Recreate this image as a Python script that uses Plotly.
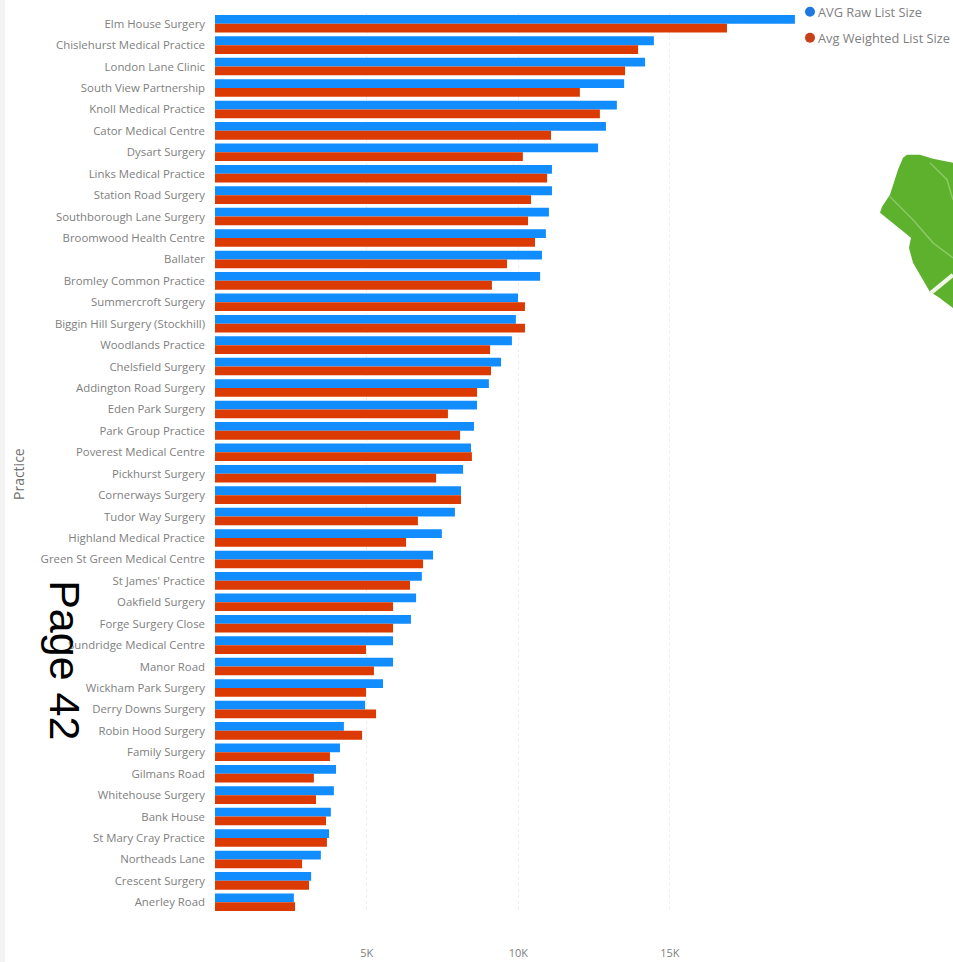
import plotly.graph_objects as go

# Practices, largest raw list first
practices = [
    "Elm House Surgery", "Chislehurst Medical Practice", "London Lane Clinic",
    "South View Partnership", "Knoll Medical Practice", "Cator Medical Centre",
    "Dysart Surgery", "Links Medical Practice", "Station Road Surgery",
    "Southborough Lane Surgery", "Broomwood Health Centre", "Ballater",
    "Bromley Common Practice", "Summercroft Surgery", "Biggin Hill Surgery (Stockhill)",
    "Woodlands Practice", "Chelsfield Surgery", "Addington Road Surgery",
    "Eden Park Surgery", "Park Group Practice", "Poverest Medical Centre",
    "Pickhurst Surgery", "Cornerways Surgery", "Tudor Way Surgery",
    "Highland Medical Practice", "Green St Green Medical Centre", "St James' Practice",
    "Oakfield Surgery", "Forge Surgery Close", "Sundridge Medical Centre",
    "Manor Road", "Wickham Park Surgery", "Derry Downs Surgery",
    "Robin Hood Surgery", "Family Surgery", "Gilmans Road",
    "Whitehouse Surgery", "Bank House", "St Mary Cray Practice",
    "Northeads Lane", "Crescent Surgery", "Anerley Road",
]
raw_list_size = [
    19120, 14470, 14180, 13490, 13250, 12890, 12630, 11110, 11110, 11010, 10910,
    10780, 10720, 9990, 9920, 9790, 9430, 9030, 8640, 8540, 8440, 8180, 8110,
    7910, 7480, 7190, 6820, 6630, 6460, 5870, 5870, 5540, 4950, 4250, 4120,
    3990, 3920, 3820, 3760, 3490, 3170, 2600,
]
weighted_list_size = [
    16880, 13950, 13520, 12030, 12690, 11080, 10150, 10950, 10420, 10320, 10550,
    9630, 9130, 10220, 10220, 9070, 9100, 8640, 7680, 8080, 8470, 7290, 8110,
    6690, 6300, 6860, 6430, 5870, 5870, 4980, 5240, 4980, 5310, 4850, 3790,
    3260, 3330, 3660, 3690, 2870, 3100, 2640,
]
x_ticks = [5000, 10000, 15000]
x_tick_labels = ["5K", "10K", "15K"]
series_names = ["AVG Raw List Size", "Avg Weighted List Size"]

BLUE = "#118DFF"
RED = "#DC3A03"
LEGEND_BLUE = "#1F78E0"
LEGEND_RED = "#C8401A"
TEXT = "#808080"
GREEN = "#5DB12D"
PALE_GREEN = "#8CC866"
FONT = "Open Sans, sans-serif"

WIDTH, HEIGHT = 953, 972
LEFT, RIGHT, TOP, BOTTOM = 215, 800, 13.3, 912.7


def px(x):
    return (x - LEFT) / (RIGHT - LEFT)


def py(y):
    return (BOTTOM - y) / (BOTTOM - TOP)


def poly(points, closed=True):
    cmds = [f"{'M' if i == 0 else 'L'} {px(x):.4f} {py(y):.4f}" for i, (x, y) in enumerate(points)]
    return " ".join(cmds) + (" Z" if closed else "")


fig = go.Figure()
fig.add_bar(y=practices, x=raw_list_size, name=series_names[0], orientation="h",
            marker=dict(color=BLUE, line_width=0), showlegend=False)
fig.add_bar(y=practices, x=weighted_list_size, name=series_names[1], orientation="h",
            marker=dict(color=RED, line_width=0), showlegend=False)

# Map tile on the right edge, with its roads
tile = [(907, 155), (920, 155), (933, 159), (953, 163), (960, 163), (960, 312), (953, 308),
        (938, 297), (930, 292), (913, 263), (909, 248), (911, 238), (880, 213), (882, 207),
        (890, 195), (898, 170), (903, 158)]
road_a = [(890, 197), (913, 220), (933, 243), (953, 258)]
road_b = [(930, 163), (947, 180), (953, 200)]
road_c = [(931, 293), (953, 275)]

shapes = [
    dict(type="rect", xref="paper", yref="paper", x0=px(0), x1=px(5), y0=py(0), y1=py(HEIGHT),
         fillcolor="#F3F3F3", line_width=0, layer="below"),
    dict(type="path", xref="paper", yref="paper", path=poly(tile), fillcolor=GREEN, line_width=0),
    dict(type="path", xref="paper", yref="paper", path=poly(road_a, False),
         line=dict(color=PALE_GREEN, width=1.5)),
    dict(type="path", xref="paper", yref="paper", path=poly(road_b, False),
         line=dict(color=PALE_GREEN, width=1.5)),
    dict(type="path", xref="paper", yref="paper", path=poly(road_c, False),
         line=dict(color="#F2F8E8", width=4)),
]

# Round legend keys and their labels
legend_rows = [(12, LEGEND_BLUE, series_names[0]), (38, LEGEND_RED, series_names[1])]
annotations = []
for row_y, colour, label in legend_rows:
    shapes.append(dict(type="circle", xref="paper", yref="paper",
                       x0=px(805), x1=px(815), y0=py(row_y - 5), y1=py(row_y + 5),
                       fillcolor=colour, line_width=0))
    annotations.append(dict(xref="paper", yref="paper", x=px(816), y=py(row_y), text=label,
                            xanchor="left", yanchor="middle", showarrow=False,
                            font=dict(family=FONT, size=12.8, color=TEXT)))

annotations.append(dict(xref="paper", yref="paper", x=px(18), y=py(474), text="Practice",
                        xanchor="center", yanchor="middle", textangle=-90, showarrow=False,
                        font=dict(family=FONT, size=14, color="#707070")))
annotations.append(dict(xref="paper", yref="paper", x=px(65), y=py(660), text="Page 42",
                        xanchor="center", yanchor="middle", textangle=90, showarrow=False,
                        font=dict(family="Liberation Sans, Arial, sans-serif", size=43,
                                  color="black")))

fig.update_layout(
    width=WIDTH, height=HEIGHT, autosize=False,
    margin=dict(l=LEFT, r=WIDTH - RIGHT, t=TOP, b=HEIGHT - BOTTOM, pad=0),
    paper_bgcolor="white", plot_bgcolor="white",
    barmode="group", bargap=0.18, bargroupgap=0,
    shapes=shapes, annotations=annotations,
    xaxis=dict(range=[0, (RIGHT - LEFT) / 30.33 * 1000], tickvals=x_ticks, ticktext=x_tick_labels,
               showgrid=True, gridcolor="#EEEEEE", griddash="dot", gridwidth=1,
               zeroline=False, showline=False, ticks="", ticklabelstandoff=32,
               tickfont=dict(family=FONT, size=11, color=TEXT)),
    yaxis=dict(categoryorder="array", categoryarray=practices, autorange="reversed",
               showgrid=False, zeroline=False, showline=False, ticks="", ticklabelstandoff=9,
               automargin=False, tickfont=dict(family=FONT, size=11.4, color=TEXT)),
)

fig.write_html("out.html", config={"displayModeBar": False})
